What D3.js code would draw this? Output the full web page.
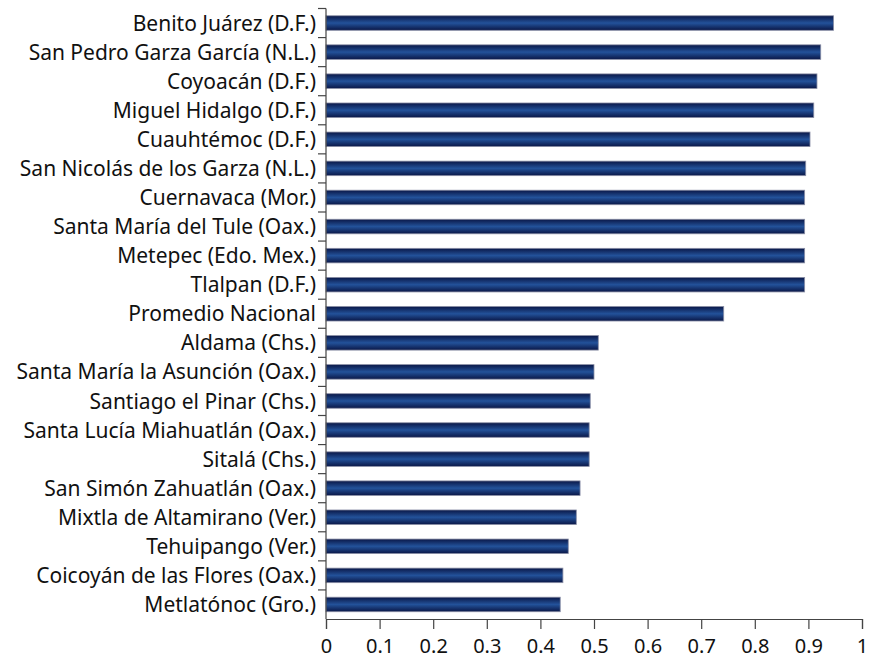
<!DOCTYPE html>
<html>
<head>
<meta charset="utf-8">
<script src="https://cdn.jsdelivr.net/npm/d3@7"></script>
<style>
  body { margin: 0; background: #fff; }
  svg text { font-family: "Noto Sans", sans-serif; fill: #111; }
</style>
</head>
<body>
<div id="chart"></div>
<script>
// municipalities, top to bottom
const municipios = [
  "Benito Juárez (D.F.)",
  "San Pedro Garza García (N.L.)",
  "Coyoacán (D.F.)",
  "Miguel Hidalgo (D.F.)",
  "Cuauhtémoc (D.F.)",
  "San Nicolás de los Garza (N.L.)",
  "Cuernavaca (Mor.)",
  "Santa María del Tule (Oax.)",
  "Metepec (Edo. Mex.)",
  "Tlalpan (D.F.)",
  "Promedio Nacional",
  "Aldama (Chs.)",
  "Santa María la Asunción (Oax.)",
  "Santiago el Pinar (Chs.)",
  "Santa Lucía Miahuatlán (Oax.)",
  "Sitalá (Chs.)",
  "San Simón Zahuatlán (Oax.)",
  "Mixtla de Altamirano (Ver.)",
  "Tehuipango (Ver.)",
  "Coicoyán de las Flores (Oax.)",
  "Metlatónoc (Gro.)"
];

// index values
const valores = [
  0.947, 0.923, 0.916, 0.910, 0.903, 0.895, 0.893, 0.893, 0.893, 0.893,
  0.742,
  0.508, 0.500, 0.493, 0.491, 0.491, 0.474, 0.467, 0.452, 0.442, 0.437
];

const xTicks = [0, 0.1, 0.2, 0.3, 0.4, 0.5, 0.6, 0.7, 0.8, 0.9, 1];

const data = municipios.map((m, i) => ({ name: m, value: valores[i] }));

const W = 878, H = 660;
const margin = { top: 8.5, right: 16, bottom: 41, left: 326 };
const width = W - margin.left - margin.right;
const height = H - margin.top - margin.bottom;

const svg = d3.select("#chart").append("svg")
    .attr("width", W)
    .attr("height", H);

// gradient for the bars (dark edges, lighter middle)
const grad = svg.append("defs").append("linearGradient")
    .attr("id", "barGrad")
    .attr("x1", 0).attr("y1", 0).attr("x2", 0).attr("y2", 1);
grad.append("stop").attr("offset", "0%").attr("stop-color", "#0a1747");
grad.append("stop").attr("offset", "50%").attr("stop-color", "#23529a");
grad.append("stop").attr("offset", "100%").attr("stop-color", "#0a1747");

const g = svg.append("g")
    .attr("transform", "translate(" + margin.left + "," + margin.top + ")");

const x = d3.scaleLinear().domain([0, 1]).range([0, 536]);
const y = d3.scaleBand().domain(municipios).range([0, height]).paddingInner(0.5).paddingOuter(0.25);

// bars
g.selectAll(".bar")
    .data(data)
    .enter().append("rect")
    .attr("class", "bar")
    .attr("x", 0)
    .attr("y", d => y(d.name))
    .attr("width", d => x(d.value))
    .attr("height", y.bandwidth())
    .style("fill", "url(#barGrad)")
    .style("stroke", "#8a8fa6")
    .style("stroke-width", 0.8);

// y axis: line with ticks at the band edges, labels centred on bars
const yAx = g.append("g");
yAx.append("line")
    .attr("x1", 0).attr("x2", 0)
    .attr("y1", 0).attr("y2", height)
    .style("stroke", "#444").style("stroke-width", 1.2);
yAx.selectAll(".ytick")
    .data(municipios)
    .enter().append("line")
    .attr("x1", -8).attr("x2", 0)
    .attr("y1", (d, i) => i * y.step())
    .attr("y2", (d, i) => i * y.step())
    .style("stroke", "#444").style("stroke-width", 1.2);
yAx.selectAll(".ylabel")
    .data(municipios)
    .enter().append("text")
    .attr("x", -10)
    .attr("y", d => y(d) + y.bandwidth() / 2)
    .attr("dy", "0.36em")
    .attr("text-anchor", "end")
    .style("font-size", "21px")
    .text(d => d);

// x axis
const xAx = g.append("g")
    .attr("transform", "translate(0," + height + ")")
    .call(d3.axisBottom(x).tickValues(xTicks).tickSize(10).tickPadding(10)
        .tickFormat(d => d === 0 || d === 1 ? d3.format("d")(d) : d3.format(".1f")(d)));
xAx.select(".domain").style("stroke", "#444").style("stroke-width", 1.2);
xAx.selectAll(".tick line").style("stroke", "#444").style("stroke-width", 1.2);
xAx.selectAll(".tick text")
    .style("font-size", "20px")
    .style("font-family", "\"Noto Sans\", sans-serif")
    .style("fill", "#111");
</script>
</body>
</html>
